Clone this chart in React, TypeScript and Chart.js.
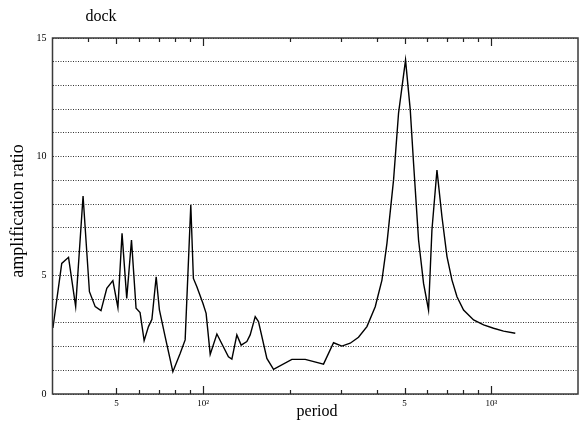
import React, { useEffect, useRef } from "react";
import { Chart, registerables } from "chart.js";

Chart.register(...registerables);

const periods = [30.1, 32.3, 34.1, 36.1, 38.3, 40.3, 42.2, 44.2, 46.3, 48.6, 50.6, 52.3, 54.3, 56.4, 58.5, 60.4, 62.4, 64.6, 66.4, 68.7, 70.5, 73.8, 78.5, 83.2, 86.6, 90.6, 92.5, 95.1, 99.8, 102.4, 105.8, 111.6, 122.4, 125.8, 130.9, 135.5, 141.8, 145.6, 151.6, 155.6, 166.4, 175.5, 203.2, 226.1, 261.7, 283.5, 303.0, 323.9, 346.1, 370.2, 395.6, 417.4, 434.4, 458.0, 476.6, 504.0, 523.4, 537.4, 559.3, 582.1, 605.7, 622.4, 647.9, 674.3, 702.0, 730.5, 760.3, 801.4, 868.2, 940.4, 1018.6, 1103.2, 1211.5];
const ratios = [2.78, 5.5, 5.76, 3.68, 8.34, 4.31, 3.68, 3.51, 4.45, 4.78, 3.64, 6.77, 4.03, 6.49, 3.61, 3.43, 2.25, 2.84, 3.15, 4.94, 3.54, 2.42, 0.94, 1.71, 2.28, 7.96, 4.87, 4.52, 3.82, 3.4, 1.67, 2.53, 1.57, 1.47, 2.49, 2.06, 2.21, 2.49, 3.26, 3.05, 1.5, 1.04, 1.46, 1.46, 1.26, 2.16, 2.02, 2.14, 2.39, 2.84, 3.68, 4.8, 6.35, 9.02, 11.83, 14.07, 11.97, 9.72, 6.49, 4.66, 3.54, 6.91, 9.44, 7.47, 5.79, 4.8, 4.1, 3.54, 3.12, 2.91, 2.77, 2.65, 2.56];

const xTickValues = [40, 50, 60, 70, 80, 90, 100, 200, 300, 400, 500, 600, 700, 800, 900, 1000];
const xMajorTicks = [100, 1000];
const xMidTicks = [50, 500];
const xTickLabels: Record<number, string> = { 50: "5", 100: "10²", 500: "5", 1000: "10³" };
const yLabelledTicks = [0, 5, 10, 15];

const titleText = "dock";
const xTitle = "period";
const yTitle = "amplification ratio";

const SERIF = '"Liberation Serif", "DejaVu Serif", serif';

const decorPlugin = {
  id: "decor",
  afterDraw(chart: any) {
    const { ctx, chartArea, scales } = chart;
    const { left, right, top, bottom } = chartArea;
    const xs = scales.x;
    ctx.save();
    // box
    ctx.strokeStyle = "#3a3a3a";
    ctx.lineWidth = 1.5;
    ctx.setLineDash([]);
    ctx.strokeRect(left, top, right - left, bottom - top);
    // inward ticks top and bottom
    ctx.lineWidth = 1.2;
    ctx.strokeStyle = "#222";
    xTickValues.forEach((v) => {
      const px = Math.round(xs.getPixelForValue(v)) + 0.5;
      const len = xMajorTicks.includes(v) ? 8 : xMidTicks.includes(v) ? 6 : 4;
      ctx.beginPath();
      ctx.moveTo(px, bottom);
      ctx.lineTo(px, bottom - len);
      ctx.moveTo(px, top);
      ctx.lineTo(px, top + len);
      ctx.stroke();
    });
    // texts
    ctx.fillStyle = "#000";
    ctx.textAlign = "center";
    ctx.textBaseline = "alphabetic";
    ctx.font = `16px ${SERIF}`;
    ctx.fillText(titleText, 101, 21);
    ctx.font = `16px ${SERIF}`;
    ctx.fillText(xTitle, 317, 416);
    ctx.translate(23, 211);
    ctx.rotate(-Math.PI / 2);
    ctx.font = `18px ${SERIF}`;
    ctx.fillText(yTitle, 0, 0);
    ctx.restore();
  },
};

export default function App() {
  const canvasRef = useRef<HTMLCanvasElement | null>(null);

  useEffect(() => {
    const canvas = canvasRef.current;
    if (!canvas) return;
    const points = periods.map((p, i) => ({ x: p, y: ratios[i] }));
    const chart = new Chart(canvas, {
      type: "line",
      data: {
        datasets: [
          {
            data: points,
            borderColor: "#000",
            borderWidth: 1.4,
            pointRadius: 0,
            tension: 0,
            fill: false,
          },
        ],
      },
      options: {
        responsive: false,
        animation: false,
        devicePixelRatio: 1,
        layout: { padding: { left: 0, right: 3, top: 38, bottom: 0 } },
        plugins: {
          legend: { display: false },
          title: { display: false },
          tooltip: { enabled: false },
        },
        scales: {
          x: {
            type: "logarithmic",
            min: 30,
            max: 2000,
            grid: { display: false, drawTicks: false },
            border: { display: false },
            afterBuildTicks: (scale: any) => {
              scale.ticks = xTickValues.map((v) => ({ value: v }));
            },
            afterFit: (scale: any) => {
              scale.height = 28;
            },
            ticks: {
              autoSkip: false,
              maxRotation: 0,
              minRotation: 0,
              padding: 4,
              color: "#000",
              font: { family: SERIF, size: 9 },
              callback: (value: any) => xTickLabels[Number(value)] ?? "",
            },
          },
          y: {
            type: "linear",
            min: 0,
            max: 15,
            grid: { display: true, drawTicks: false, color: "#333", lineWidth: 1 },
            border: { display: false, dash: [1, 1.5] },
            afterFit: (scale: any) => {
              scale.width = 52.5;
            },
            ticks: {
              stepSize: 1,
              padding: 6,
              color: "#000",
              font: { family: SERIF, size: 10 },
              callback: (value: any) => (yLabelledTicks.includes(Number(value)) ? String(value) : ""),
            },
          },
        },
      },
      plugins: [decorPlugin],
    } as any);
    return () => chart.destroy();
  }, []);

  return (
    <div style={{ position: "absolute", left: 0, top: 0, width: 581, height: 422, background: "#fff" }}>
      <canvas ref={canvasRef} width={581} height={422} style={{ display: "block" }} />
    </div>
  );
}
